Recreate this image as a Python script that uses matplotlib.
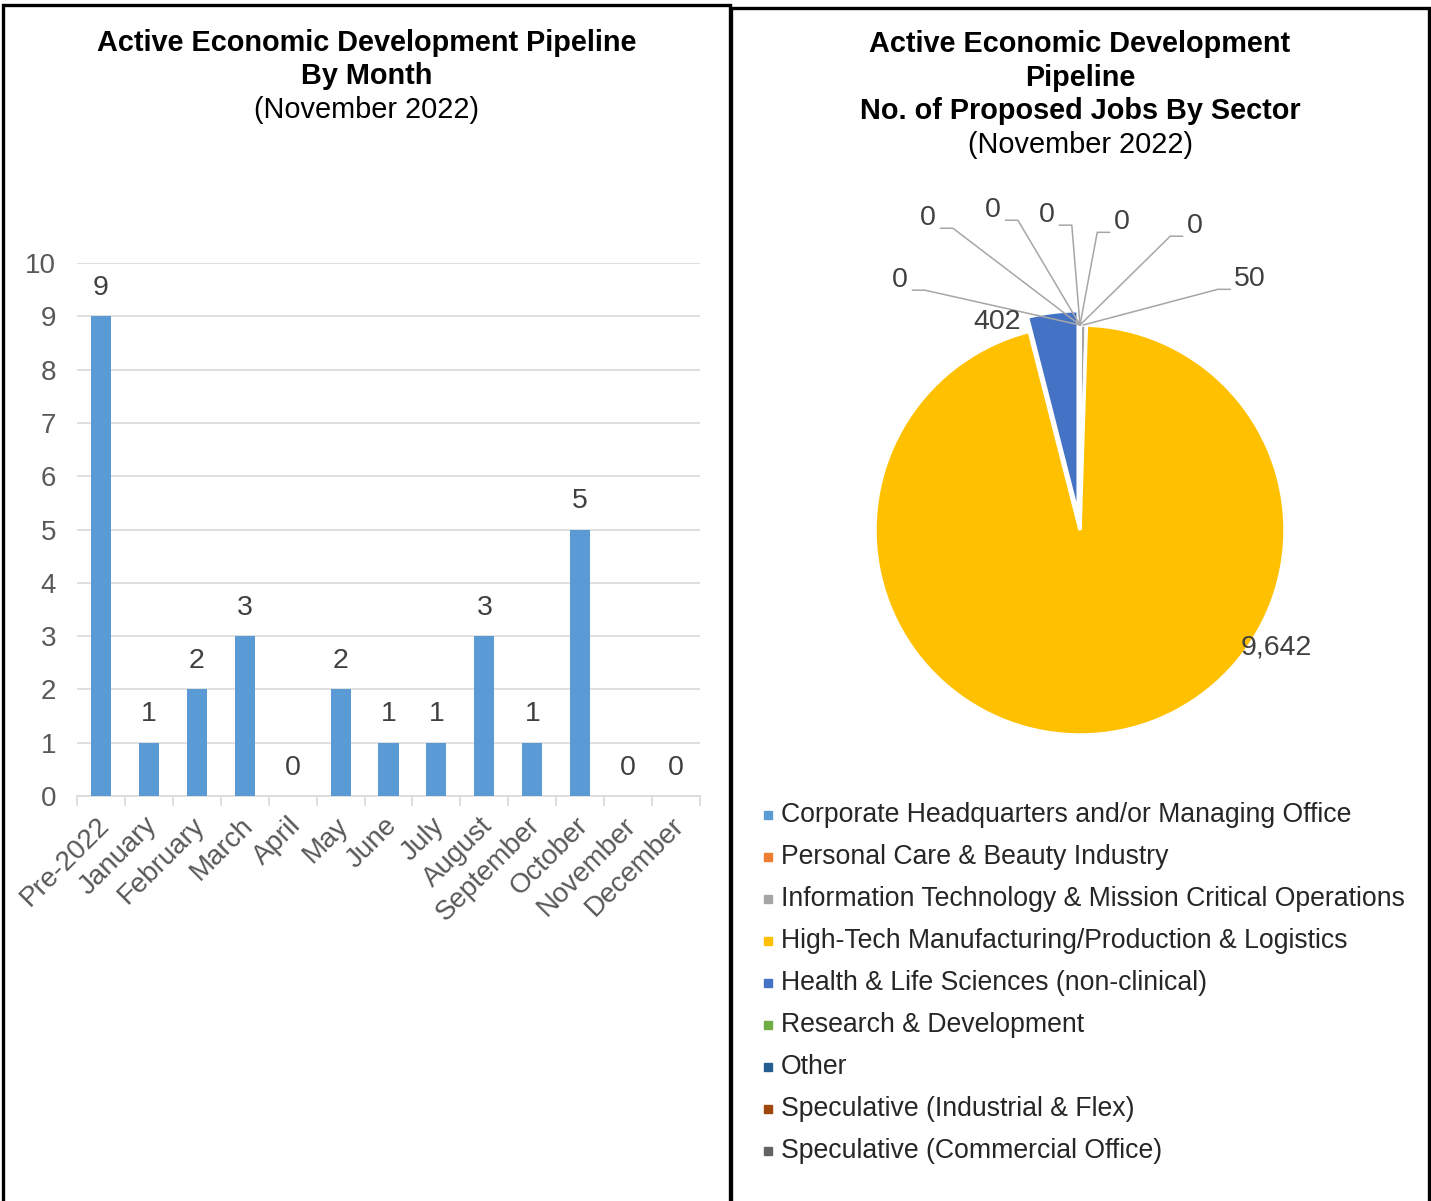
import numpy as np
import matplotlib
matplotlib.use("Agg")
import matplotlib.pyplot as plt
import matplotlib.transforms as mtransforms
from matplotlib.patches import Rectangle
from matplotlib.lines import Line2D

plt.rcParams["font.family"] = ["Liberation Sans", "DejaVu Sans"]

MONTHS = ["Pre-2022", "January", "February", "March", "April", "May", "June",
          "July", "August", "September", "October", "November", "December"]
PROJECTS = [9, 1, 2, 3, 0, 2, 1, 1, 3, 1, 5, 0, 0]

SECTORS = ["Corporate Headquarters and/or Managing Office",
           "Personal Care & Beauty Industry",
           "Information Technology & Mission Critical Operations",
           "High-Tech Manufacturing/Production & Logistics",
           "Health & Life Sciences (non-clinical)",
           "Research & Development",
           "Other",
           "Speculative (Industrial & Flex)",
           "Speculative (Commercial Office)"]
JOBS = [0, 0, 50, 9642, 402, 0, 0, 0, 0]
SECTOR_COLORS = ["#5B9BD5", "#ED7D31", "#A5A5A5", "#FFC000", "#4472C4",
                 "#70AD47", "#255E91", "#9E480E", "#636363"]

W, H = 1431, 1201
FS_TITLE = 20.8
FS_TICK = 20
FS_DATA = 20.5
FS_LEG = 19.2
GREY = "#595959"
LABEL = "#404040"

fig = plt.figure(figsize=(W / 100, H / 100), dpi=100)


def fx(x):
    return x / W


def fy(y):
    return 1 - y / H


# panel frames
for x0, x1, y0 in [(3, 730, 5), (731, 1429, 8)]:
    fig.add_artist(Rectangle((fx(x0), fy(H + 10)), fx(x1) - fx(x0), fy(y0) - fy(H + 10),
                             transform=fig.transFigure, fill=False, ec="black", lw=2.4))

# ── left: projects by month ──
fig.text(fx(367), fy(43), "Active Economic Development Pipeline", ha="center", va="center",
         fontsize=FS_TITLE, fontweight="bold")
fig.text(fx(367), fy(76), "By Month", ha="center", va="center", fontsize=FS_TITLE,
         fontweight="bold")
fig.text(fx(367), fy(110), "(November 2022)", ha="center", va="center", fontsize=FS_TITLE)

ax = fig.add_axes([fx(77), fy(796), fx(700) - fx(77), fy(263) - fy(796)])
x = np.arange(len(MONTHS))
bars = ax.bar(x, PROJECTS, width=0.42, color="#5B9BD5", zorder=3)
for b, v in zip(bars, PROJECTS):
    ax.annotate(str(v), (b.get_x() + b.get_width() / 2, v), xytext=(0, 11),
                textcoords="offset points", ha="center", va="bottom",
                fontsize=FS_DATA, color=LABEL)
ax.set_xlim(-0.5, len(MONTHS) - 0.5)
ax.set_ylim(0, 10)
ax.set_yticks(range(0, 11))
ax.grid(axis="y", color="#D9D9D9", lw=1.2, zorder=0)
for s in ["top", "right", "left"]:
    ax.spines[s].set_visible(False)
ax.spines["bottom"].set_color("#D9D9D9")
ax.spines["bottom"].set_linewidth(1.2)
ax.tick_params(axis="y", length=0, labelsize=FS_TICK, labelcolor=GREY, pad=15)
ax.set_xticks(x)
ax.set_xticks(np.arange(-0.5, len(MONTHS)), minor=True)
ax.tick_params(axis="x", which="major", length=0, pad=6)
ax.tick_params(axis="x", which="minor", length=7, color="#D9D9D9", width=1.2)
ax.set_xticklabels(MONTHS, rotation=45, ha="right", va="top", rotation_mode="anchor",
                   fontsize=FS_TICK, color=GREY)
shift = mtransforms.ScaledTranslation(-5 / 100, -8 / 100, fig.dpi_scale_trans)
for lab in ax.get_xticklabels():
    lab.set_transform(lab.get_transform() + shift)

# ── right: proposed jobs by sector ──
for i, (t, w) in enumerate([("Active Economic Development", "bold"), ("Pipeline", "bold"),
                            ("No. of Proposed Jobs By Sector", "bold"),
                            ("(November 2022)", "normal")]):
    fig.text(fx(1080), fy(44 + 33.7 * i), t, ha="center", va="center", fontsize=FS_TITLE,
             fontweight=w)

R_PX = 205
CX, CY = 1080, 530
HALF = 260
pax = fig.add_axes([fx(CX - HALF), fy(CY + HALF), 2 * HALF / W, 2 * HALF / H])
lim = HALF / R_PX
pax.axis("off")

explode = [0.07 if s.startswith("Health") else 0 for s in SECTORS]
wedges, _ = pax.pie(JOBS, colors=SECTOR_COLORS, startangle=90, counterclock=False,
                    explode=explode, radius=1,
                    wedgeprops=dict(edgecolor="white", linewidth=2.5))
pax.set_xlim(-lim, lim)
pax.set_ylim(-lim, lim)

# label placement (radius units) and which way the leader line leaves the label
label_at = {
    0: (0.205, 1.502, -1), 1: (0.561, 1.483, -1), 2: (0.829, 1.224, -1),
    3: (0.956, -0.571, 0), 4: (-0.405, 1.015, 0),
    5: (-0.878, 1.220, 1), 6: (-0.741, 1.522, 1), 7: (-0.424, 1.561, 1),
    8: (-0.161, 1.537, 1),
}
for i, (w, v) in enumerate(zip(wedges, JOBS)):
    lx, ly, side = label_at[i]
    txt = f"{v:,}"
    pax.text(lx, ly, txt, ha="center", va="center", fontsize=FS_DATA, color=LABEL)
    if side == 0:
        continue
    theta = np.deg2rad((w.theta1 + w.theta2) / 2)
    cx, cy = w.center
    tx, ty = cx + w.r * np.cos(theta), cy + w.r * np.sin(theta)
    half_w = 0.036 * len(txt) + 0.025
    sx = lx + side * half_w
    sy = ly - 0.05
    ex = sx + side * 0.06
    pax.plot([sx, ex, tx], [sy, sy, ty], color="#A6A6A6", lw=1.1, clip_on=False)

# legend
for i, (name, col) in enumerate(zip(SECTORS, SECTOR_COLORS)):
    yy = 815 + 42 * i
    fig.add_artist(Line2D([fx(768)], [fy(yy)], marker="s", ms=6, color=col, ls="none",
                          transform=fig.transFigure))
    fig.text(fx(781), fy(yy), name, ha="left", va="center", fontsize=FS_LEG, color="#262626")

fig.savefig("out.png", dpi=100)
